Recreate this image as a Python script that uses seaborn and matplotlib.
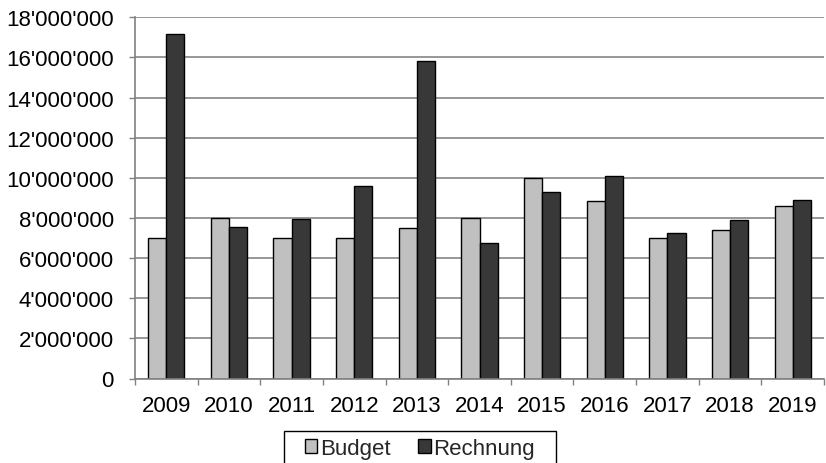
import matplotlib
matplotlib.use("Agg")
import matplotlib.pyplot as plt
import matplotlib.ticker as mticker
from matplotlib.patches import Rectangle
import seaborn as sns
import pandas as pd

jahre = ["2009", "2010", "2011", "2012", "2013", "2014", "2015", "2016", "2017", "2018", "2019"]
budget = [7.0e6, 8.0e6, 7.0e6, 7.0e6, 7.5e6, 8.0e6, 10.0e6, 8.83e6, 7.0e6, 7.41e6, 8.61e6]
rechnung = [17.15e6, 7.53e6, 7.95e6, 9.59e6, 15.8e6, 6.77e6, 9.3e6, 10.07e6, 7.27e6, 7.9e6, 8.91e6]
serien = ["Budget", "Rechnung"]
farben = ["#c0c0c0", "#383838"]

df = pd.DataFrame({
    "Jahr": jahre * 2,
    "Betrag": budget + rechnung,
    "Art": [serien[0]] * len(jahre) + [serien[1]] * len(jahre),
})

sns.set_theme(style="white")
plt.rcParams["font.family"] = ["Liberation Sans", "DejaVu Sans"]

fig = plt.figure(figsize=(8.26, 4.64), dpi=100)
ax = fig.add_axes([135 / 826, 1 - 379.5 / 464, (824 - 135) / 826, (379.5 - 18.3) / 464])

sns.barplot(data=df, x="Jahr", y="Betrag", hue="Art", palette=farben,
            edgecolor="black", linewidth=1.0, width=0.58, gap=0, ax=ax,
            legend=True)

ax.set_ylim(0, 18e6)
ax.set_xlim(-0.5, len(jahre) - 0.5)
ax.yaxis.set_major_locator(mticker.MultipleLocator(2e6))
ax.yaxis.set_major_formatter(mticker.FuncFormatter(lambda v, p: f"{int(round(v)):,}".replace(",", "'")))
ax.set_xlabel("")
ax.set_ylabel("")

ax.grid(axis="y", color="#858585", linewidth=1.2)
ax.set_axisbelow(True)
for s in ["top", "right"]:
    ax.spines[s].set_visible(False)
for s in ["left", "bottom"]:
    ax.spines[s].set_color("#808080")
    ax.spines[s].set_linewidth(1.2)

fs = 16
ax.tick_params(axis="y", which="major", length=4.3, width=1, color="#808080",
               pad=11, labelsize=fs, labelcolor="black", left=True)
ax.set_xticks([i - 0.5 for i in range(len(jahre) + 1)], minor=True)
ax.tick_params(axis="x", which="minor", length=4.3, width=1, color="#808080", bottom=True)
ax.tick_params(axis="x", which="major", length=0, pad=12, labelsize=fs, labelcolor="black")

handles, labels = ax.get_legend_handles_labels()
ax.get_legend().remove()
leg = fig.legend(handles, labels, loc="upper center", bbox_to_anchor=(420 / 826, 1 - 432 / 464),
                 ncol=2, fontsize=fs, frameon=False,
                 handlelength=0.55, handleheight=0.55, handletextpad=0.12,
                 columnspacing=1.25, borderpad=0.3, borderaxespad=0)

# wider box around the legend entries
fig.canvas.draw()
bb = leg.get_window_extent().transformed(fig.transFigure.inverted())
extra = 14 / 826
fig.add_artist(Rectangle((bb.x0 - extra, bb.y0 - 0.05), bb.width + 2 * extra, bb.height + 0.05,
                         transform=fig.transFigure, facecolor="none",
                         edgecolor="black", linewidth=1.0))

fig.savefig("out.png", dpi=100)
